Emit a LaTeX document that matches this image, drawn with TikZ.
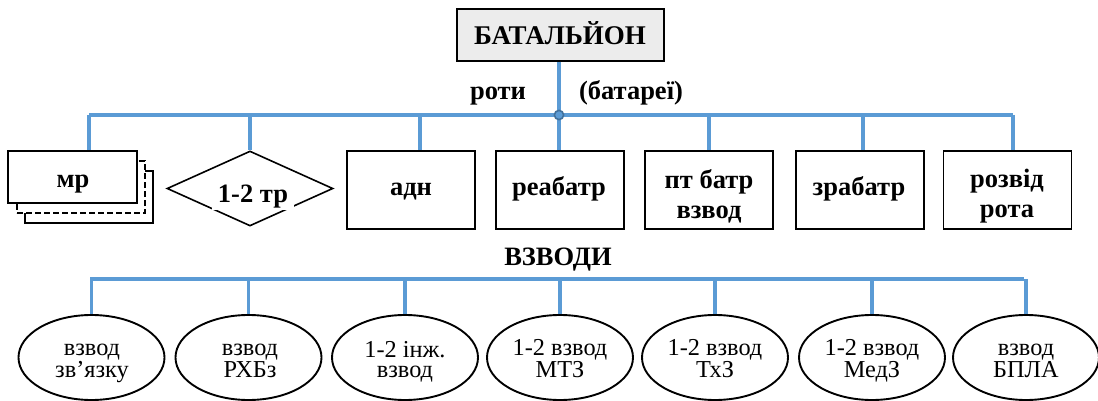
\documentclass[tikz,border=0pt]{standalone}
\usepackage{fontspec}
\setmainfont{Liberation Serif}
\usetikzlibrary{shapes.geometric}
\definecolor{busblue}{HTML}{5B9BD5}
\definecolor{dotblue}{HTML}{41719C}
\definecolor{headgray}{HTML}{ECECEC}
\begin{document}
\begin{tikzpicture}[x=1pt,y=-1pt,
  bus/.style={draw=busblue,line width=3.6pt},
  unitbox/.style={draw,line width=1.4pt,fill=white,minimum width=128pt,minimum height=78pt,inner sep=0pt},
  platoon/.style={draw,ellipse,line width=1.9pt,minimum width=146pt,minimum height=85pt,inner sep=0pt},
  lbl/.style={font=\fontsize{26.5}{30}\selectfont\bfseries,inner sep=0pt,anchor=base,align=center},
  plbl/.style={font=\fontsize{24.3}{20}\selectfont,inner sep=0pt,anchor=base,align=center}]
\useasboundingbox (0,0) rectangle (1098,401);

% head unit
\node[draw,line width=1.3pt,fill=headgray,minimum width=207pt,minimum height=52pt,inner sep=0pt] (bat) at (560.5,35) {};
\node[lbl,font=\fontsize{27}{30}\selectfont\bfseries] (batl) at (560,45) {БАТАЛЬЙОН};

% companies (batteries)
\node[draw,line width=1.3pt,fill=white,minimum width=128pt,minimum height=52pt] (mr3) at (89,197) {};
\node[draw,dash pattern=on 6pt off 3pt,line width=1.3pt,fill=white,minimum width=128pt,minimum height=52pt] (mr2) at (81,187) {};
\node[unitbox,minimum width=129pt,minimum height=52pt] (mr) at (72.5,177) {};
\node[lbl] (mrl) at (73,187) {мр};
\node[draw,diamond,line width=1.6pt,minimum width=166pt,minimum height=75pt,aspect=2.2,inner sep=0pt] (tr) at (250,188.5) {};
\node[lbl,fill=white,inner xsep=6pt,inner ysep=2pt] (trl) at (253,202) {1-2 тр};
\node[unitbox] (adn) at (411,190) {};
\node[lbl] (adnl) at (411,195) {адн};
\node[unitbox] (rea) at (560,190) {};
\node[lbl] (real) at (559,195) {реабатр};
\node[unitbox] (pt) at (709,190) {};
\node[lbl] (ptl) at (709,218) {пт батр\\взвод};
\node[unitbox] (zr) at (860,190) {};
\node[lbl] (zrl) at (859,195) {зрабатр};
\node[unitbox] (rozv) at (1007.5,190) {};
\node[lbl] (rozvl) at (1007,217) {розвід\\рота};

% company bus
\coordinate (hub) at (559,115);
\coordinate (c1) at (89,115);
\coordinate (c2) at (250,115);
\coordinate (c3) at (420,115);
\coordinate (c4) at (559,115);
\coordinate (c5) at (709,115);
\coordinate (c6) at (863,115);
\coordinate (c7) at (1013,115);
\draw[bus] (c1) -- (c7);
\draw[bus] (bat.south -| hub) -- (hub);
\draw[bus] (c1) -- (c1 |- mr.north);
\draw[bus] (c2) -- (tr.north);
\draw[bus] (c3) -- (c3 |- adn.north);
\draw[bus] (c4) -- (c4 |- rea.north);
\draw[bus] (c5) -- (c5 |- pt.north);
\draw[bus] (c6) -- (c6 |- zr.north);
\draw[bus] (c7) -- (c7 |- rozv.north);
\draw[draw=dotblue,line width=1.6pt,fill=busblue] (hub) circle (4.6pt);

\node[lbl] (roty) at (498,100) {роти};
\node[lbl] (bat2) at (631,100) {(батареї)};

% platoons
\node[lbl] (vzv) at (558,265) {ВЗВОДИ};
\node[platoon] (p1) at (91.5,357.5) {};
\node[platoon] (p2) at (248.5,357.5) {};
\node[platoon] (p3) at (405,357.5) {};
\node[platoon] (p4) at (560,357.5) {};
\node[platoon] (p5) at (715,357.5) {};
\node[platoon] (p6) at (872,357.5) {};
\node[platoon] (p7) at (1026,357.5) {};
\node[plbl] (t1) at (92,377) {взвод\\зв’язку};
\node[plbl] (t2) at (250,377) {взвод\\РХБз};
\node[plbl] (t3) at (405,377) {1-2 інж.\\взвод};
\node[plbl] (t4) at (560,377) {1-2 взвод\\МТЗ};
\node[plbl] (t5) at (715,377) {1-2 взвод\\ТхЗ};
\node[plbl] (t6) at (872,377) {1-2 взвод\\МедЗ};
\node[plbl] (t7) at (1026,377) {взвод\\БПЛА};

\coordinate (q1) at (90,279);
\coordinate (q7) at (1024,279);
\draw[bus] (q1) -- (q7);
\foreach \i in {1,...,7}{
  \draw[bus] (p\i.north |- q1) -- (p\i.north);
}
\end{tikzpicture}
\end{document}
